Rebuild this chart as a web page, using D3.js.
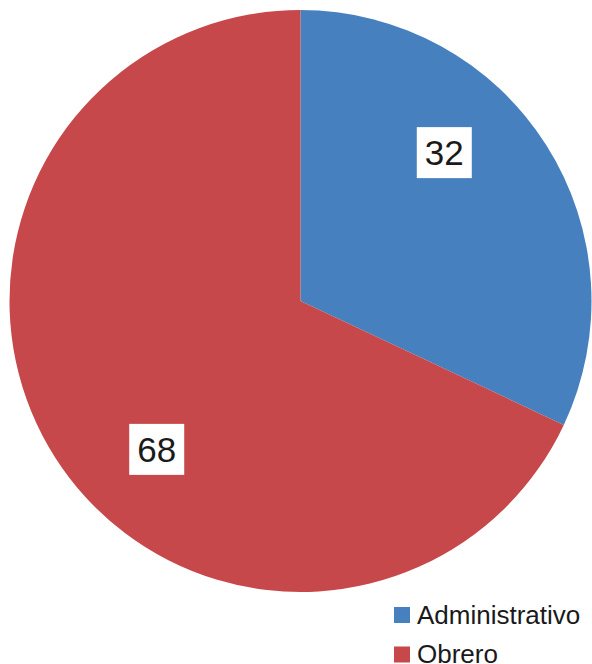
<!DOCTYPE html>
<html>
<head>
<meta charset="utf-8">
<script src="https://cdn.jsdelivr.net/npm/d3@7"></script>
<style>
  html, body { margin: 0; padding: 0; background: #fff; }
  svg { display: block; }
  text { font-family: "Liberation Sans", Arial, sans-serif; }
</style>
</head>
<body>
<svg id="chart" width="592" height="664"></svg>
<script>
const categories = ["Administrativo", "Obrero"];
const values = [32, 68];
const colors = ["#4680BF", "#C6484A"];

const svg = d3.select("#chart");
const cx = 300.5, cy = 301, radius = 291;

const pie = d3.pie().sort(null).value(d => d.value);
const arc = d3.arc().innerRadius(0).outerRadius(radius);

const data = categories.map((c, i) => ({ name: c, value: values[i], color: colors[i] }));
const arcs = pie(data);

const g = svg.append("g").attr("transform", `translate(${cx},${cy})`);

g.selectAll("path.slice")
  .data(arcs)
  .join("path")
  .attr("class", "slice")
  .attr("d", arc)
  .attr("fill", d => d.data.color);

// value labels on white boxes, set a little counter-clockwise of each slice's middle
const labelShift = 13.5 * Math.PI / 180;
const labelR = radius * 0.71;
const labels = g.selectAll("g.lbl")
  .data(arcs)
  .join("g")
  .attr("class", "lbl")
  .attr("transform", d => {
    const a = (d.startAngle + d.endAngle) / 2 - labelShift;
    return `translate(${labelR * Math.sin(a)},${-labelR * Math.cos(a)})`;
  });

labels.append("rect")
  .attr("x", -27.5).attr("y", -25.5)
  .attr("width", 55).attr("height", 51)
  .attr("fill", "#fff");

labels.append("text")
  .attr("text-anchor", "middle")
  .attr("y", 12.5)
  .attr("font-size", 35)
  .attr("fill", "#1a1a1a")
  .text(d => d.data.value);

// legend
const legend = svg.append("g").attr("transform", "translate(394,607)");
const items = legend.selectAll("g")
  .data(data)
  .join("g")
  .attr("transform", (d, i) => `translate(0,${i * 39.5})`);

items.append("rect")
  .attr("width", 16).attr("height", 16)
  .attr("fill", d => d.color);

items.append("text")
  .attr("x", 23).attr("y", 16.5)
  .attr("font-size", 26)
  .attr("fill", "#1a1a1a")
  .text(d => d.name);
</script>
</body>
</html>
